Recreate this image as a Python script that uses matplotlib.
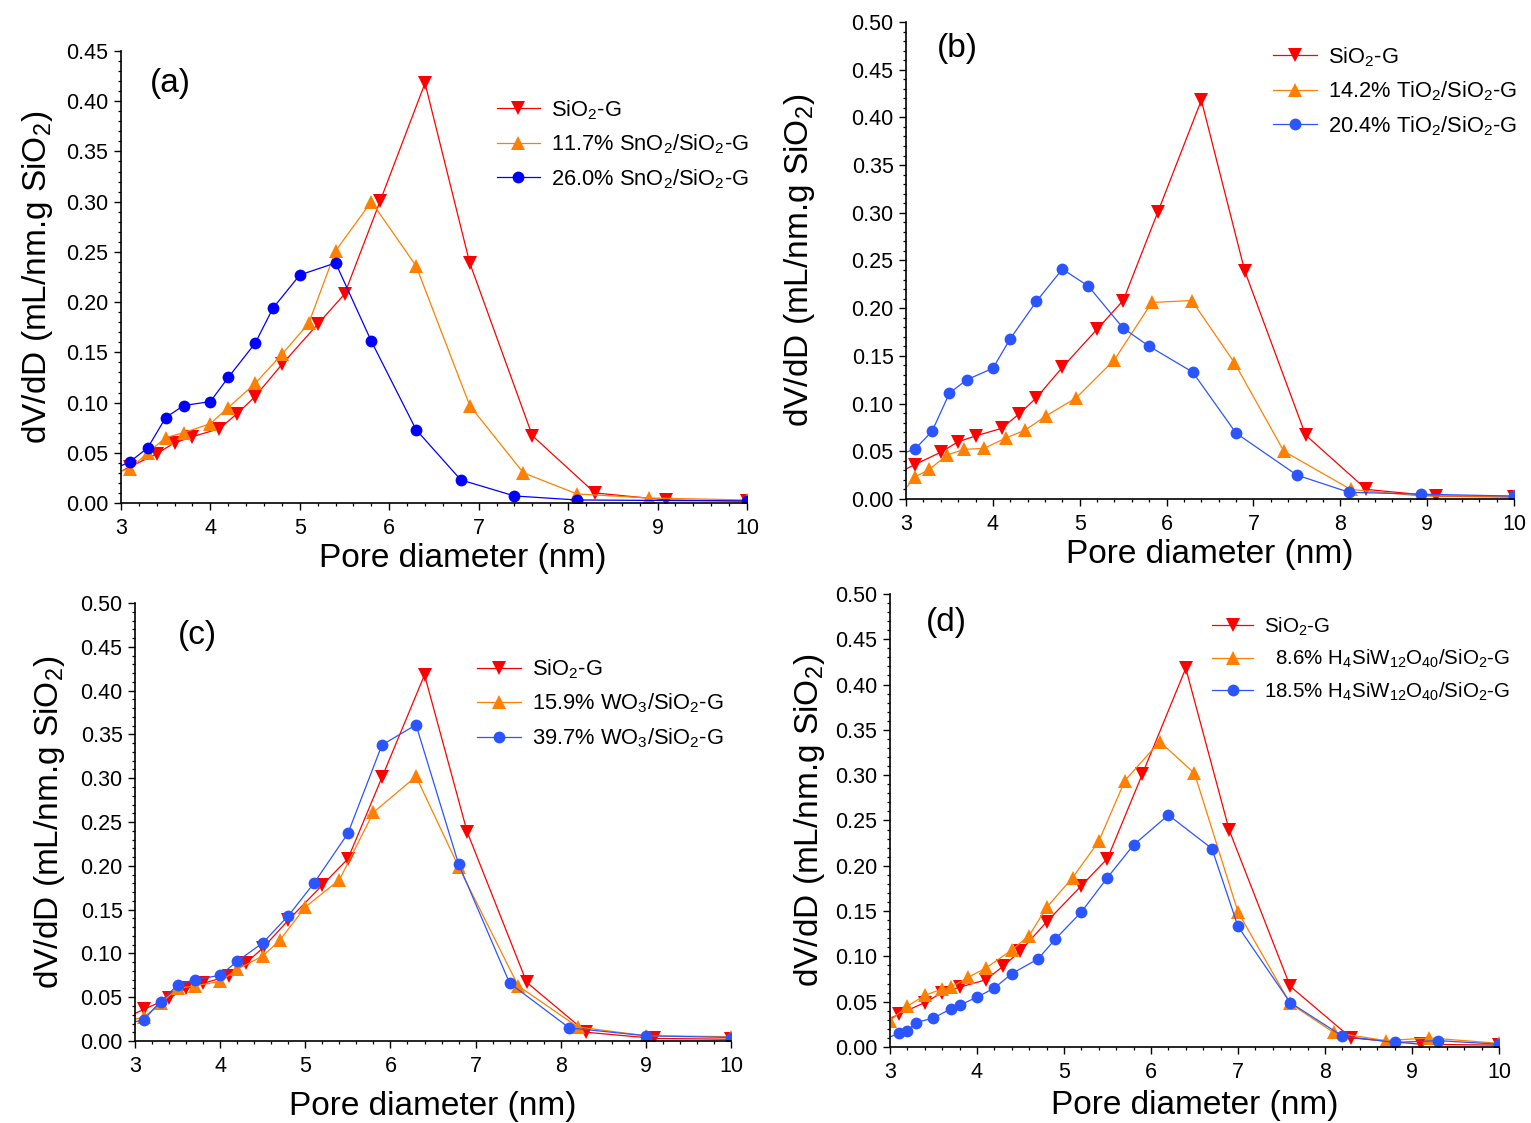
import matplotlib
matplotlib.use('Agg')
import matplotlib.pyplot as plt
from matplotlib.ticker import MultipleLocator, FormatStrFormatter

plt.rcParams['font.family'] = ['Liberation Sans', 'DejaVu Sans']
plt.rcParams['mathtext.fontset'] = 'custom'
plt.rcParams['mathtext.rm'] = 'Liberation Sans'
plt.rcParams['mathtext.it'] = 'Liberation Sans:italic'
plt.rcParams['mathtext.default'] = 'regular'

# SiO2-G reference curve (same in every panel)
x_sio2 = [2.9, 3.1, 3.4, 3.6, 3.8, 4.1, 4.3, 4.5, 4.8, 5.2, 5.5, 5.9, 6.4, 6.9, 7.6, 8.3, 9.1, 10.0]
y_sio2 = [0.027, 0.036, 0.049, 0.060, 0.066, 0.074, 0.089, 0.106, 0.138, 0.178, 0.208, 0.301, 0.418, 0.239, 0.067, 0.010, 0.003, 0.002]

# (a) SnO2
x_sn1 = [2.9, 3.1, 3.3, 3.5, 3.7, 4.0, 4.2, 4.5, 4.8, 5.1, 5.4, 5.8, 6.3, 6.9, 7.5, 8.1, 8.9, 10.0]
y_sn1 = [0.030, 0.034, 0.050, 0.065, 0.070, 0.079, 0.095, 0.119, 0.148, 0.179, 0.251, 0.300, 0.236, 0.097, 0.030, 0.009, 0.005, 0.003]
x_sn2 = [2.9, 3.1, 3.3, 3.5, 3.7, 4.0, 4.2, 4.5, 4.7, 5.0, 5.4, 5.8, 6.3, 6.8, 7.4, 8.1, 10.0]
y_sn2 = [0.033, 0.041, 0.055, 0.085, 0.097, 0.101, 0.125, 0.159, 0.194, 0.227, 0.239, 0.161, 0.073, 0.023, 0.007, 0.003, 0.002]

# (b) TiO2
x_ti1 = [2.9, 3.1, 3.27, 3.47, 3.67, 3.9, 4.15, 4.37, 4.61, 4.96, 5.4, 5.83, 6.29, 6.78, 7.35, 8.12, 8.93, 10.0]
y_ti1 = [0.000, 0.023, 0.031, 0.046, 0.052, 0.053, 0.064, 0.072, 0.087, 0.106, 0.146, 0.206, 0.208, 0.143, 0.050, 0.010, 0.003, 0.003]
x_ti2 = [2.9, 3.1, 3.3, 3.5, 3.7, 4.0, 4.2, 4.5, 4.8, 5.1, 5.5, 5.8, 6.3, 6.8, 7.5, 8.1, 8.93, 10.0]
y_ti2 = [0.046, 0.052, 0.071, 0.111, 0.125, 0.137, 0.168, 0.207, 0.241, 0.223, 0.179, 0.160, 0.133, 0.069, 0.025, 0.007, 0.005, 0.003]

# (c) WO3
x_w1 = [2.9, 3.1, 3.3, 3.5, 3.7, 4.0, 4.2, 4.5, 4.7, 5.0, 5.4, 5.8, 6.3, 6.8, 7.5, 8.2, 9.0, 10.0]
y_w1 = [0.023, 0.027, 0.043, 0.060, 0.063, 0.068, 0.082, 0.097, 0.115, 0.153, 0.184, 0.261, 0.302, 0.199, 0.063, 0.016, 0.006, 0.005]
x_w2 = [2.9, 3.1, 3.3, 3.5, 3.7, 4.0, 4.2, 4.5, 4.8, 5.1, 5.5, 5.9, 6.3, 6.8, 7.4, 8.1, 9.0, 10.0]
y_w2 = [0.020, 0.024, 0.045, 0.064, 0.070, 0.075, 0.091, 0.112, 0.143, 0.180, 0.237, 0.338, 0.361, 0.202, 0.066, 0.015, 0.006, 0.004]

# (d) H4SiW12O40
x_hpw1 = [3.0, 3.2, 3.4, 3.6, 3.7, 3.9, 4.1, 4.4, 4.6, 4.8, 5.1, 5.4, 5.7, 6.1, 6.5, 7.0, 7.6, 8.1, 8.7, 9.2, 10.0]
y_hpw1 = [0.029, 0.045, 0.057, 0.064, 0.066, 0.077, 0.087, 0.107, 0.123, 0.154, 0.187, 0.227, 0.294, 0.337, 0.302, 0.149, 0.048, 0.016, 0.007, 0.010, 0.004]
x_hpw2 = [2.9, 3.1, 3.2, 3.3, 3.5, 3.7, 3.8, 4.0, 4.2, 4.4, 4.7, 4.9, 5.2, 5.5, 5.8, 6.2, 6.7, 7.0, 7.6, 8.2, 8.8, 9.3, 10.0]
y_hpw2 = [0.007, 0.015, 0.018, 0.027, 0.032, 0.042, 0.046, 0.055, 0.065, 0.081, 0.097, 0.119, 0.149, 0.187, 0.223, 0.256, 0.219, 0.133, 0.049, 0.012, 0.005, 0.007, 0.003]

fig = plt.figure(figsize=(15.31, 11.23), dpi=100)

RED = '#FF0000'
ORANGE = '#FF8000'

panels = [
    # tag, rect, ymax, series, blue colour, legend anchor, legend size, tag pos, xlabel coords, ylabel x
    ('(a)', [0.0790, 0.5521, 0.4089, 0.4025], 0.45,
     [(x_sio2, y_sio2, 'SiO$_2$-G'),
      (x_sn1, y_sn1, '11.7% SnO$_2$/SiO$_2$-G'),
      (x_sn2, y_sn2, '26.0% SnO$_2$/SiO$_2$-G')],
     '#0000FF', (0.60, 0.896), 15.75, (0.046, 0.929), (0.546, -0.088), -0.105),
    ('(b)', [0.5918, 0.5557, 0.3971, 0.4247], 0.50,
     [(x_sio2, y_sio2, 'SiO$_2$-G'),
      (x_ti1, y_ti1, '14.2% TiO$_2$/SiO$_2$-G'),
      (x_ti2, y_ti2, '20.4% TiO$_2$/SiO$_2$-G')],
     '#2A55FF', (0.604, 0.952), 15.75, (0.051, 0.945), (0.5, -0.085), -0.146),
    ('(c)', [0.0882, 0.0730, 0.3893, 0.3900], 0.50,
     [(x_sio2, y_sio2, 'SiO$_2$-G'),
      (x_w1, y_w1, '15.9% WO$_3$/SiO$_2$-G'),
      (x_w2, y_w2, '39.7% WO$_3$/SiO$_2$-G')],
     '#2A55FF', (0.574, 0.876), 15.75, (0.072, 0.927), (0.5, -0.114), -0.114),
    ('(d)', [0.5813, 0.0677, 0.3978, 0.4034], 0.50,
     [(x_sio2, y_sio2, 'SiO$_2$-G'),
      (x_hpw1, y_hpw1, '  8.6% H$_4$SiW$_{12}$O$_{40}$/SiO$_2$-G'),
      (x_hpw2, y_hpw2, '18.5% H$_4$SiW$_{12}$O$_{40}$/SiO$_2$-G')],
     '#2A55FF', (0.529, 0.953), 14.8, (0.059, 0.938), (0.5, -0.095), -0.103),
]

for tag, rect, ymax, series, blue, leg_xy, leg_fs, tag_xy, xl_xy, yl_x in panels:
    ax = fig.add_axes(rect)
    styles = [(RED, 'v', 9.5), (ORANGE, '^', 9.5), (blue, 'o', 8.5)]
    for (xs, ys, lab), (c, m, ms) in zip(series, styles):
        ax.plot(xs, ys, color=c, marker=m, markersize=ms, linewidth=0.9,
                markeredgewidth=0, label=lab)

    ax.set_xlim(3, 10)
    ax.set_ylim(0, ymax)
    ax.xaxis.set_major_locator(MultipleLocator(1))
    ax.xaxis.set_minor_locator(MultipleLocator(0.2))
    ax.yaxis.set_major_locator(MultipleLocator(0.05))
    ax.yaxis.set_minor_locator(MultipleLocator(0.01))
    ax.yaxis.set_major_formatter(FormatStrFormatter('%.2f'))

    for s in ['top', 'right']:
        ax.spines[s].set_visible(False)
    for s in ['left', 'bottom']:
        ax.spines[s].set_linewidth(1.2)
    ax.tick_params(which='major', direction='out', length=5, width=1.0,
                   labelsize=15.5, pad=4)
    ax.tick_params(which='minor', direction='out', length=2.5, width=0.9)
    ax.tick_params(axis='x', which='major', pad=6)

    ax.set_xlabel('Pore diameter (nm)', fontsize=24)
    ax.set_ylabel('dV/dD (mL/nm.g SiO$_2$)', fontsize=24)
    ax.xaxis.set_label_coords(*xl_xy)
    ax.yaxis.set_label_coords(yl_x, 0.5)

    ax.text(tag_xy[0], tag_xy[1], tag, transform=ax.transAxes, fontsize=24,
            ha='left', va='center')

    ax.legend(loc='upper left', bbox_to_anchor=leg_xy, frameon=False,
              fontsize=leg_fs, handlelength=2.0, handletextpad=0.5,
              labelspacing=0.5, borderpad=0, borderaxespad=0)

fig.savefig('out.png', dpi=100)
